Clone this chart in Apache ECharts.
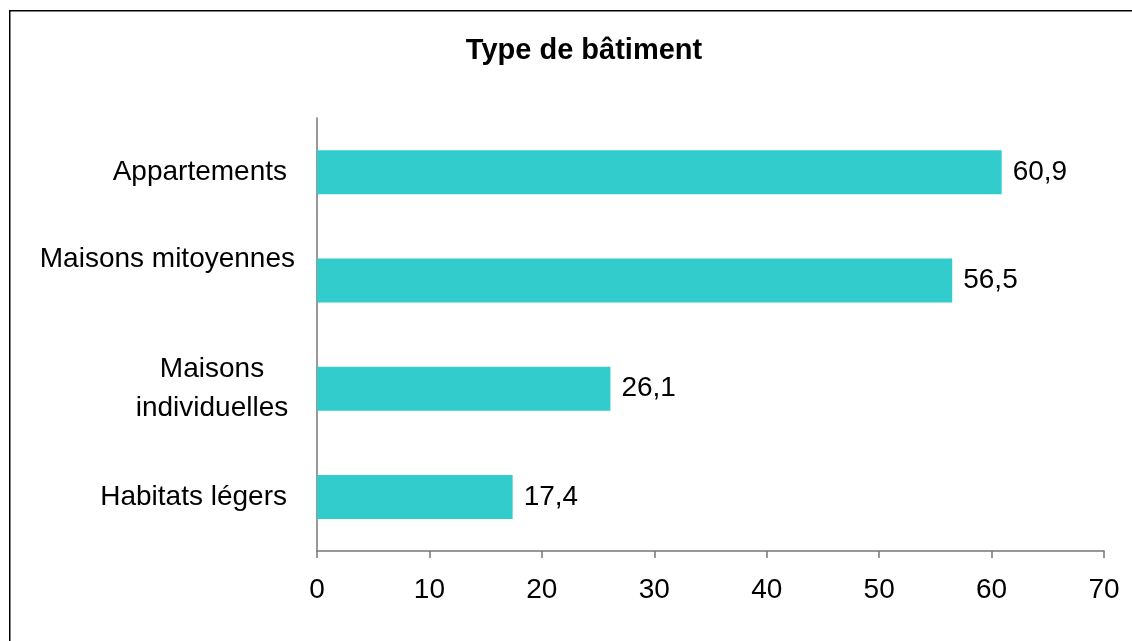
<!DOCTYPE html>
<html>
<head>
<meta charset="utf-8">
<script src="https://cdn.jsdelivr.net/npm/echarts@6/dist/echarts.min.js"></script>
<style>
html,body{margin:0;padding:0;background:#fff;}
#chart{width:1132px;height:641px;}
</style>
</head>
<body>
<div id="chart"></div>
<script>
const titleText = 'Type de bâtiment';
const categories = ['Appartements', 'Maisons mitoyennes', 'Maisons\nindividuelles', 'Habitats légers'];
const values = [60.9, 56.5, 26.1, 17.4];
const xTicks = [0, 10, 20, 30, 40, 50, 60, 70];

const FONT = '"Liberation Sans", Arial, sans-serif';
const chart = echarts.init(document.getElementById('chart'));
chart.setOption({
  backgroundColor: '#ffffff',
  animation: false,
  title: {
    text: titleText,
    left: 579,
    top: 31,
    textAlign: 'center',
    textStyle: { fontFamily: FONT, fontSize: 29, fontWeight: 'bold', color: '#000' }
  },
  graphic: [{
    type: 'rect',
    shape: { x: 9.75, y: 10.75, width: 2000, height: 2000 },
    style: { fill: 'none', stroke: '#000', lineWidth: 1.5 },
    silent: true
  }],
  grid: { left: 317, right: 28, top: 118, bottom: 90, containLabel: false, outerBoundsMode: 'none' },
  xAxis: {
    type: 'value',
    min: xTicks[0],
    max: xTicks[xTicks.length - 1],
    interval: xTicks[1] - xTicks[0],
    splitLine: { show: false },
    axisLine: { show: true, lineStyle: { color: '#777', width: 1.5 } },
    axisTick: { show: true, inside: false, length: 7, lineStyle: { color: '#777', width: 1.5 } },
    axisLabel: { fontFamily: FONT, fontSize: 28, color: '#000', margin: 25 }
  },
  yAxis: {
    type: 'category',
    inverse: true,
    data: categories,
    axisLine: { show: true, lineStyle: { color: '#777', width: 1.5 } },
    axisTick: { show: false },
    splitLine: { show: false },
    axisLabel: {
      fontFamily: FONT, fontSize: 28, color: '#000', margin: 30, align: 'right',
      formatter: function (v) {
        if (v.indexOf('\n') >= 0) {
          return v.split('\n').map(s => '{c|' + s + '}').join('\n');
        }
        if (v === 'Maisons mitoyennes') {
          return '{n|' + v + '}\n{n| }';
        }
        return v;
      },
      rich: {
        c: { fontFamily: FONT, fontSize: 28, color: '#000', width: 150, align: 'center', lineHeight: 39 },
        n: { fontFamily: FONT, fontSize: 28, color: '#000', lineHeight: 42, padding: [0, -8, 0, 0] }
      }
    }
  },
  series: [{
    type: 'bar',
    data: values,
    barWidth: 44,
    itemStyle: { color: '#33CCCC' },
    label: {
      show: true,
      position: 'right',
      distance: 11,
      fontFamily: FONT,
      fontSize: 28,
      color: '#000',
      formatter: p => String(p.value).replace('.', ',')
    }
  }]
});
</script>
</body>
</html>
